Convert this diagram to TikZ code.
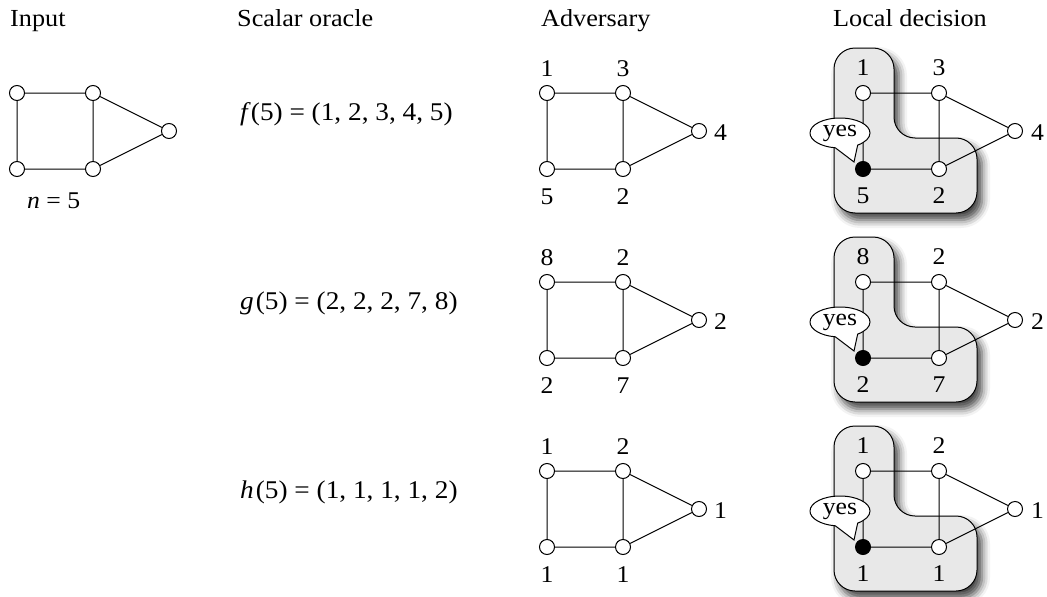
\documentclass[tikz,border=0pt]{standalone}
\usepackage{fontspec}
\setmainfont{Liberation Serif}[FakeStretch=1.07]
\usetikzlibrary{shapes.callouts,shadows.blur}
\begin{document}
\begin{tikzpicture}[x=1pt,y=-1pt,
  vtx/.style={circle,draw,line width=1pt,fill=white,minimum size=15pt,inner sep=0pt},
  blk/.style={vtx,fill=black},
  edge/.style={line width=1pt},
  lbl/.style={font=\fontsize{24}{28}\selectfont,inner sep=0pt,anchor=base},
  rlbl/.style={lbl,anchor=base west},
  title/.style={font=\fontsize{24.5}{29}\selectfont,inner sep=0pt,anchor=base west},
  eqn/.style={font=\fontsize{25.5}{30}\selectfont,inner sep=0pt,anchor=base west},
  region/.style={draw,line width=1pt,fill=black!9,rounded corners=21pt,
    blur shadow={shadow xshift=5pt,shadow yshift=-7pt,shadow blur radius=8pt,shadow opacity=75}},
  bubble/.style={ellipse callout,draw,line width=1pt,fill=white,minimum width=60pt,
    minimum height=30pt,inner sep=0pt,font=\fontsize{24}{28}\selectfont,callout pointer arc=45}
]
\useasboundingbox (0,0) rectangle (1047,597);

% titles
\node[title] (tIn) at (10,26) {Input};
\node[title] (tSc) at (237,26) {Scalar oracle};
\node[title] (tAd) at (541,26) {Adversary};
\node[title] (tLd) at (833,26) {Local decision};

% input graph
\node[vtx] (i1) at (17,93) {};
\node[vtx] (i2) at (93,93) {};
\node[vtx] (i3) at (169,131) {};
\node[vtx] (i4) at (17,169) {};
\node[vtx] (i5) at (93,169) {};
\draw[edge] (i1)--(i2) (i1)--(i4) (i2)--(i5) (i4)--(i5) (i2)--(i3) (i5)--(i3);
\node[lbl,anchor=base west] (nlab) at (27,208) {\textit{n} = 5};

\foreach \r/\yy/\ta/\tb/\tc/\td/\te/\eq in {
  1/93/1/3/4/5/2/{\textit{f}(5) = (1, 2, 3, 4, 5)},
  2/282/8/2/2/2/7/{\textit{g}\kern2pt(5) = (2, 2, 2, 7, 8)},
  3/471/1/2/1/1/1/{\textit{h}\kern2pt(5) = (1, 1, 1, 1, 2)}}{
  % scalar oracle
  \node[eqn] (eq\r) at (240,\yy+27) {\eq};
  % adversary
  \node[vtx] (a\r1) at (547,\yy) {};
  \node[vtx] (a\r2) at (623,\yy) {};
  \node[vtx] (a\r3) at (699,\yy+38) {};
  \node[vtx] (a\r4) at (547,\yy+76) {};
  \node[vtx] (a\r5) at (623,\yy+76) {};
  \draw[edge] (a\r1)--(a\r2) (a\r1)--(a\r4) (a\r2)--(a\r5) (a\r4)--(a\r5) (a\r2)--(a\r3) (a\r5)--(a\r3);
  \node[lbl] (al\r1) at (547,\yy-17) {\ta};
  \node[lbl] (al\r2) at (623,\yy-17) {\tb};
  \node[rlbl] (al\r3) at (714,\yy+47) {\tc};
  \node[lbl] (al\r4) at (547,\yy+111) {\td};
  \node[lbl] (al\r5) at (623,\yy+111) {\te};
  % local decision
  \path[region] (834,\yy+40) -- (834,\yy-45) -- (894,\yy-45) -- (894,\yy+45)
     -- (977,\yy+45) -- (977,\yy+120) -- (834,\yy+120) -- cycle;
  \node[vtx] (l\r1) at (863,\yy) {};
  \node[vtx] (l\r2) at (939,\yy) {};
  \node[vtx] (l\r3) at (1015,\yy+38) {};
  \node[blk] (l\r4) at (863,\yy+76) {};
  \node[vtx] (l\r5) at (939,\yy+76) {};
  \draw[edge] (l\r1)--(l\r2) (l\r1)--(l\r4) (l\r2)--(l\r5) (l\r4)--(l\r5) (l\r2)--(l\r3) (l\r5)--(l\r3);
  \node[lbl] (ll\r1) at (863,\yy-18) {\ta};
  \node[lbl] (ll\r2) at (939,\yy-18) {\tb};
  \node[rlbl] (ll\r3) at (1031,\yy+47) {\tc};
  \node[lbl] (ll\r4) at (863,\yy+110) {\td};
  \node[lbl] (ll\r5) at (939,\yy+110) {\te};
  \node[bubble,callout absolute pointer={(854,\yy+69)}] (yes\r) at (840,\yy+40) {yes};
}
\end{tikzpicture}
\end{document}
